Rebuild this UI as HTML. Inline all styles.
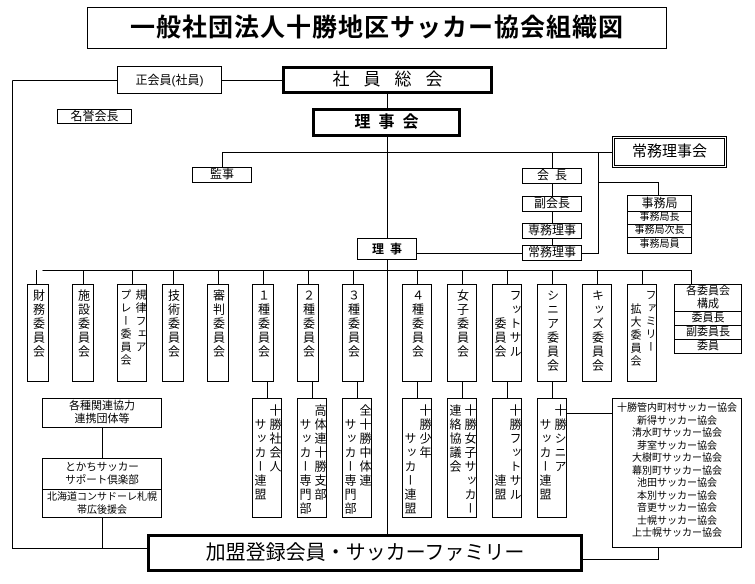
<!DOCTYPE html>
<html><head><meta charset="utf-8"><style>
body{margin:0;width:755px;height:584px;background:#fff;position:relative;overflow:hidden;font-family:"Liberation Sans","Noto Sans CJK JP",sans-serif;color:#000}
.b{position:absolute;border:1px solid #000;box-sizing:border-box;background:#fff;text-align:center;font-size:12px;line-height:13px;white-space:nowrap}
.v{position:absolute;border:1px solid #000;box-sizing:border-box;background:#fff;display:flex;flex-direction:row-reverse;justify-content:center;gap:2px;font-size:12px}
.v span{writing-mode:vertical-rl;letter-spacing:2px;line-height:13px;display:block}
.c{position:absolute;border:1px solid #000;box-sizing:border-box;background:#fff;font-size:11px;text-align:center;line-height:13px;white-space:nowrap}
.c div{border-top:1px solid #000}
svg{position:absolute;left:0;top:0}
</style></head><body>
<svg width="755" height="584" stroke="#000" stroke-width="1" fill="none" shape-rendering="crispEdges">
<path d="M12.5 80.5H282M12.5 80.5V548.5H147"/>
<path d="M387.5 94V536"/>
<path d="M222.5 167V152.5H612"/>
<path d="M552.5 152V246M598.5 152V253.5H582M598.5 182.5H658.5V195"/>
<path d="M417 253.5H522"/>
<path d="M42.5 270.5H691.5V284"/>
<path d="M36.5 270V284M83.5 270V284M132.5 270V284M173.5 270V284M218.5 270V284M263.5 270V284M308.5 270V284M353.5 270V284M417.5 270V284M462.5 270V284M507.5 270V284M552.5 270V284M597.5 270V284M642.5 270V284"/>
<path d="M267.5 382V398M312.5 382V398M357.5 382V398M417.5 382V398M462.5 382V398M507.5 382V398M552.5 382V398"/>
<path d="M567 413.5H612M582 559.5H658.5V548"/>
<path d="M102.5 428V458M102.5 518V548"/>
</svg>
<div class="b" style="left:87px;top:7px;width:580px;height:42px;font-size:25px;line-height:40px;font-weight:bold;letter-spacing:1px">一般社団法人十勝地区サッカー協会組織図</div>
<div class="b" style="left:117px;top:66px;width:105px;height:28px;line-height:26px">正会員(社員)</div>
<div class="b" style="left:282px;top:66px;width:211px;height:28px;border-width:3px;font-size:17px;line-height:22px;letter-spacing:14px;text-indent:14px">社員総会</div>
<div class="b" style="left:57px;top:109px;width:75px;height:15px;line-height:13px">名誉会長</div>
<div class="b" style="left:312px;top:108px;width:149px;height:29px;border-width:3px;font-size:16px;line-height:23px;font-weight:bold;letter-spacing:8px;text-indent:8px">理事会</div>
<div class="b" style="left:192px;top:167px;width:60px;height:16px">監事</div>
<div class="b" style="left:612px;top:136px;width:115px;height:32px;border:3px double #000;font-size:15px;line-height:26px">常務理事会</div>
<div class="b" style="left:522px;top:168px;width:60px;height:16px;letter-spacing:6px;text-indent:6px">会長</div>
<div class="b" style="left:522px;top:196px;width:60px;height:16px">副会長</div>
<div class="b" style="left:522px;top:223px;width:60px;height:16px">専務理事</div>
<div class="b" style="left:522px;top:245px;width:60px;height:16px">常務理事</div>
<div class="c" style="left:627px;top:195px;width:65px;height:59px;font-size:12px;line-height:15px">事務局<div style="font-size:10px;line-height:12px">事務局長</div><div style="font-size:10px;line-height:12px">事務局次長</div><div style="font-size:10px;line-height:14px">事務局員</div></div>
<div class="b" style="left:357px;top:238px;width:60px;height:22px;line-height:20px;font-weight:bold;letter-spacing:6px;text-indent:6px">理事</div>

<div class="v" style="left:27px;top:284px;width:22px;height:98px;padding-top:4px"><span>財務委員会</span></div>
<div class="v" style="left:72px;top:284px;width:22px;height:98px;padding-top:4px"><span>施設委員会</span></div>
<div class="v" style="left:117px;top:284px;width:30px;height:98px;padding-top:4px"><span style="font-size:11px">規律フェア</span><span style="font-size:11px">プレー委員会</span></div>
<div class="v" style="left:162px;top:284px;width:22px;height:98px;padding-top:4px"><span>技術委員会</span></div>
<div class="v" style="left:207px;top:284px;width:22px;height:98px;padding-top:4px"><span>審判委員会</span></div>
<div class="v" style="left:252px;top:284px;width:22px;height:98px;padding-top:4px"><span>１種委員会</span></div>
<div class="v" style="left:297px;top:284px;width:22px;height:98px;padding-top:4px"><span>２種委員会</span></div>
<div class="v" style="left:342px;top:284px;width:22px;height:98px;padding-top:4px"><span>３種委員会</span></div>
<div class="v" style="left:402px;top:284px;width:30px;height:98px;padding-top:4px"><span>４種委員会</span></div>
<div class="v" style="left:447px;top:284px;width:30px;height:98px;padding-top:4px"><span>女子委員会</span></div>
<div class="v" style="left:492px;top:284px;width:30px;height:98px;padding-top:4px"><span>フットサル</span><span style="margin-top:28px">委員会</span></div>
<div class="v" style="left:537px;top:284px;width:30px;height:98px;padding-top:4px"><span>シニア委員会</span></div>
<div class="v" style="left:582px;top:284px;width:30px;height:98px;padding-top:4px"><span>キッズ委員会</span></div>
<div class="v" style="left:627px;top:284px;width:30px;height:98px;padding-top:4px"><span style="font-size:11px">ファミリー</span><span style="font-size:11px;margin-top:14px">拡大委員会</span></div>
<div class="c" style="left:674px;top:284px;width:68px;height:70px">各委員会<br>構成<div>委員長</div><div>副委員長</div><div>委員</div></div>

<div class="b" style="left:42px;top:398px;width:120px;height:30px;font-size:11px;line-height:13px;padding-top:1px">各種関連協力<br>連携団体等</div>
<div class="c" style="left:42px;top:458px;width:120px;height:60px;padding-top:2px;font-size:10.5px">とかちサッカー<br>サポート倶楽部<div style="margin-top:2px;padding-top:1px;font-size:10px">北海道コンサドーレ札幌<br>帯広後援会</div></div>

<div class="v" style="left:252px;top:398px;width:30px;height:120px;padding-top:5px"><span>十勝社会人</span><span style="margin-top:14px">サッカー連盟</span></div>
<div class="v" style="left:297px;top:398px;width:30px;height:120px;padding-top:5px"><span>高体連十勝支部</span><span style="margin-top:14px">サッカー専門部</span></div>
<div class="v" style="left:342px;top:398px;width:30px;height:120px;padding-top:5px"><span>全十勝中体連</span><span style="margin-top:14px">サッカー専門部</span></div>
<div class="v" style="left:402px;top:398px;width:30px;height:120px;padding-top:5px"><span>十勝少年</span><span style="margin-top:28px">サッカー連盟</span></div>
<div class="v" style="left:447px;top:398px;width:30px;height:120px;padding-top:5px"><span>十勝女子サッカー</span><span>連絡協議会</span></div>
<div class="v" style="left:492px;top:398px;width:30px;height:120px;padding-top:5px"><span>十勝フットサル</span><span style="margin-top:70px">連盟</span></div>
<div class="v" style="left:537px;top:398px;width:30px;height:120px;padding-top:5px"><span>十勝シニア</span><span style="margin-top:14px">サッカー連盟</span></div>

<div class="b" style="left:612px;top:398px;width:130px;height:150px;font-size:10px;line-height:12.5px;padding-top:4px">十勝管内町村サッカー協会<br>新得サッカー協会<br>清水町サッカー協会<br>芽室サッカー協会<br>大樹町サッカー協会<br>幕別町サッカー協会<br>池田サッカー協会<br>本別サッカー協会<br>音更サッカー協会<br>士幌サッカー協会<br>上士幌サッカー協会</div>

<div class="b" style="left:147px;top:534px;width:436px;height:38px;border-width:3px;font-size:20px;line-height:32px">加盟登録会員・サッカーファミリー</div>
</body></html>
